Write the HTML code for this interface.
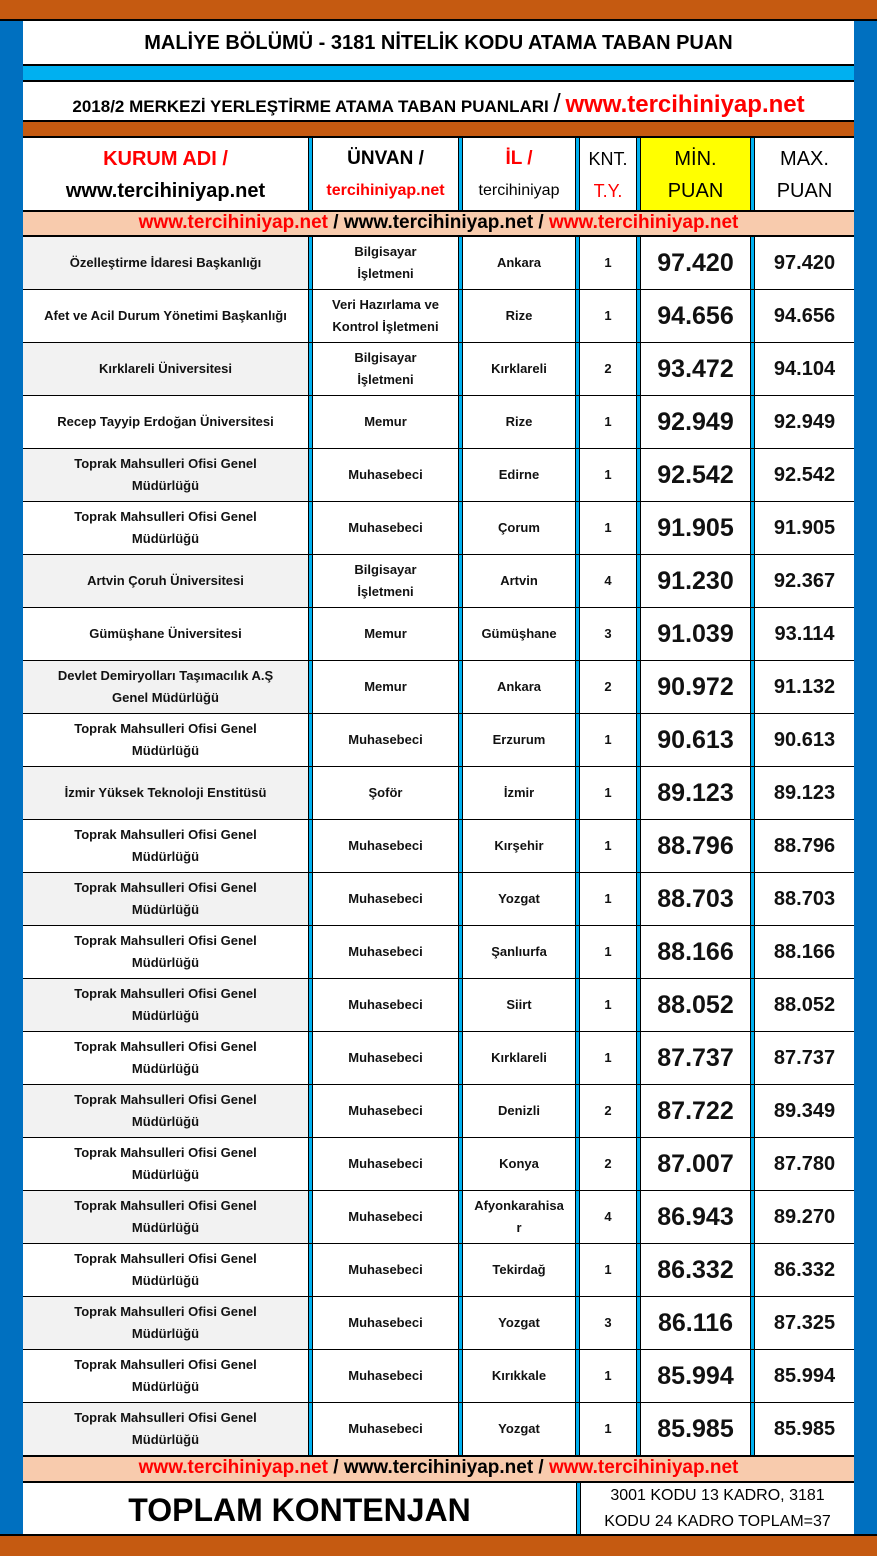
<!DOCTYPE html>
<html><head><meta charset="utf-8"><style>
*{margin:0;padding:0;box-sizing:border-box}
body{width:877px;height:1556px;position:relative;background:#0070C0;font-family:"Liberation Sans",sans-serif;font-weight:bold;overflow:hidden}
.a{position:absolute}
.row{position:absolute;left:23px;width:831px;display:flex;border-bottom:1px solid #000}
.c{display:flex;align-items:center;justify-content:center;text-align:center;height:100%}
.s{width:5px;height:100%;background:#00B0F0;border-left:1px solid #000;border-right:1px solid #000}
.w1{width:285px}.w2{width:145px}.w3{width:112px}.w4{width:56px}.w5{width:109px}.w6{width:99px}
.d{font-size:13px;line-height:22px;color:#111;background:#fff}
.g .w1{background:#F2F2F2}
.mn{font-size:25px}.mx{font-size:20px}
.red{color:#F00}
.peach{position:absolute;left:23px;width:831px;background:#F8CBAD;border-top:2px solid #000;border-bottom:2px solid #000;text-align:center;font-size:19px;line-height:22px;color:#000}
</style></head><body>
<div class="a" style="left:0;top:0;width:877px;height:21px;background:#C55A11;border-bottom:2px solid #000"></div>
<div class="a" style="left:23px;top:21px;width:831px;height:45px;background:#fff;border-bottom:2px solid #000;text-align:center;font-size:20px;line-height:45px">MALİYE BÖLÜMÜ - 3181 NİTELİK KODU ATAMA TABAN PUAN</div>
<div class="a" style="left:23px;top:66px;width:831px;height:16px;background:#00B0F0;border-bottom:2px solid #000"></div>
<div class="a" style="left:23px;top:82px;width:831px;height:40px;background:#fff;border-bottom:2px solid #000;text-align:center;font-size:17px;line-height:42px">2018/2 MERKEZİ YERLEŞTİRME ATAMA TABAN PUANLARI <span style="font-size:26px;font-weight:normal">/</span> <span class="red" style="font-size:24px">www.tercihiniyap.net</span></div>
<div class="a" style="left:23px;top:122px;width:831px;height:16px;background:#C55A11;border-bottom:2px solid #000"></div>
<div class="row" style="top:138px;height:73px;border-bottom:none">
<div class="c w1" style="background:#fff;flex-direction:column;font-size:20px;line-height:32px"><span class="red">KURUM ADI /</span><span>www.tercihiniyap.net</span></div><div class="s"></div>
<div class="c w2" style="background:#fff;flex-direction:column;font-size:19px;line-height:32px"><span>ÜNVAN /</span><span class="red" style="font-size:16px">tercihiniyap.net</span></div><div class="s"></div>
<div class="c w3" style="background:#fff;flex-direction:column;font-size:19px;line-height:32px"><span class="red">İL /</span><span style="font-size:16px;font-weight:normal">tercihiniyap</span></div><div class="s"></div>
<div class="c w4" style="background:#fff;flex-direction:column;font-size:18px;line-height:32px;font-weight:normal"><span>KNT.</span><span class="red">T.Y.</span></div><div class="s"></div>
<div class="c w5" style="background:#FFFF00;flex-direction:column;font-size:20px;line-height:32px;font-weight:normal"><span>MİN.</span><span>PUAN</span></div><div class="s"></div>
<div class="c w6" style="background:#fff;flex-direction:column;font-size:20px;line-height:32px;font-weight:normal"><span>MAX.</span><span>PUAN</span></div>
</div>
<div class="peach" style="top:210px;height:27px"><span class="red">www.tercihiniyap.net</span> / www.tercihiniyap.net / <span class="red">www.tercihiniyap.net</span></div>
<div id="rows"></div>
<div class="peach" style="top:1455px;height:28px"><span class="red">www.tercihiniyap.net</span> / www.tercihiniyap.net / <span class="red">www.tercihiniyap.net</span></div>
<div class="a" style="left:23px;top:1483px;width:553px;height:51px;background:#fff;text-align:center;font-size:32px;line-height:54px">TOPLAM KONTENJAN</div>
<div class="a" style="left:576px;top:1483px;width:5px;height:51px;background:#00B0F0;border-left:1px solid #000;border-right:1px solid #000"></div>
<div class="a" style="left:581px;top:1483px;width:273px;height:51px;background:#fff;text-align:center;font-size:16px;line-height:26px;font-weight:normal">3001 KODU 13 KADRO, 3181<br>KODU 24 KADRO TOPLAM=37</div>
<div class="a" style="left:0;top:1534px;width:877px;height:22px;background:#C55A11;border-top:2px solid #000"></div>
<script>
var T="Toprak Mahsulleri Ofisi Genel<br>Müdürlüğü",M="Muhasebeci",B="Bilgisayar<br>İşletmeni";
var d=[["Özelleştirme İdaresi Başkanlığı",B,"Ankara",1,"97.420","97.420"],
["Afet ve Acil Durum Yönetimi Başkanlığı","Veri Hazırlama ve<br>Kontrol İşletmeni","Rize",1,"94.656","94.656"],
["Kırklareli Üniversitesi",B,"Kırklareli",2,"93.472","94.104"],
["Recep Tayyip Erdoğan Üniversitesi","Memur","Rize",1,"92.949","92.949"],
[T,M,"Edirne",1,"92.542","92.542"],[T,M,"Çorum",1,"91.905","91.905"],
["Artvin Çoruh Üniversitesi",B,"Artvin",4,"91.230","92.367"],
["Gümüşhane Üniversitesi","Memur","Gümüşhane",3,"91.039","93.114"],
["Devlet Demiryolları Taşımacılık A.Ş<br>Genel Müdürlüğü","Memur","Ankara",2,"90.972","91.132"],
[T,M,"Erzurum",1,"90.613","90.613"],
["İzmir Yüksek Teknoloji Enstitüsü","Şoför","İzmir",1,"89.123","89.123"],
[T,M,"Kırşehir",1,"88.796","88.796"],[T,M,"Yozgat",1,"88.703","88.703"],
[T,M,"Şanlıurfa",1,"88.166","88.166"],[T,M,"Siirt",1,"88.052","88.052"],
[T,M,"Kırklareli",1,"87.737","87.737"],[T,M,"Denizli",2,"87.722","89.349"],
[T,M,"Konya",2,"87.007","87.780"],[T,M,"Afyonkarahisa<br>r",4,"86.943","89.270"],
[T,M,"Tekirdağ",1,"86.332","86.332"],[T,M,"Yozgat",3,"86.116","87.325"],
[T,M,"Kırıkkale",1,"85.994","85.994"],[T,M,"Yozgat",1,"85.985","85.985"]];
var h="";d.forEach(function(r,i){h+='<div class="row'+(i%2==0?' g':'')+'" style="top:'+(237+i*53)+'px;height:53px">'+
'<div class="c d w1">'+r[0]+'</div><div class="s"></div><div class="c d w2">'+r[1]+'</div><div class="s"></div><div class="c d w3">'+r[2]+'</div><div class="s"></div><div class="c d w4">'+r[3]+'</div><div class="s"></div><div class="c d w5 mn">'+r[4]+'</div><div class="s"></div><div class="c d w6 mx">'+r[5]+'</div></div>';});
document.getElementById("rows").outerHTML=h;
</script>
</body></html>
